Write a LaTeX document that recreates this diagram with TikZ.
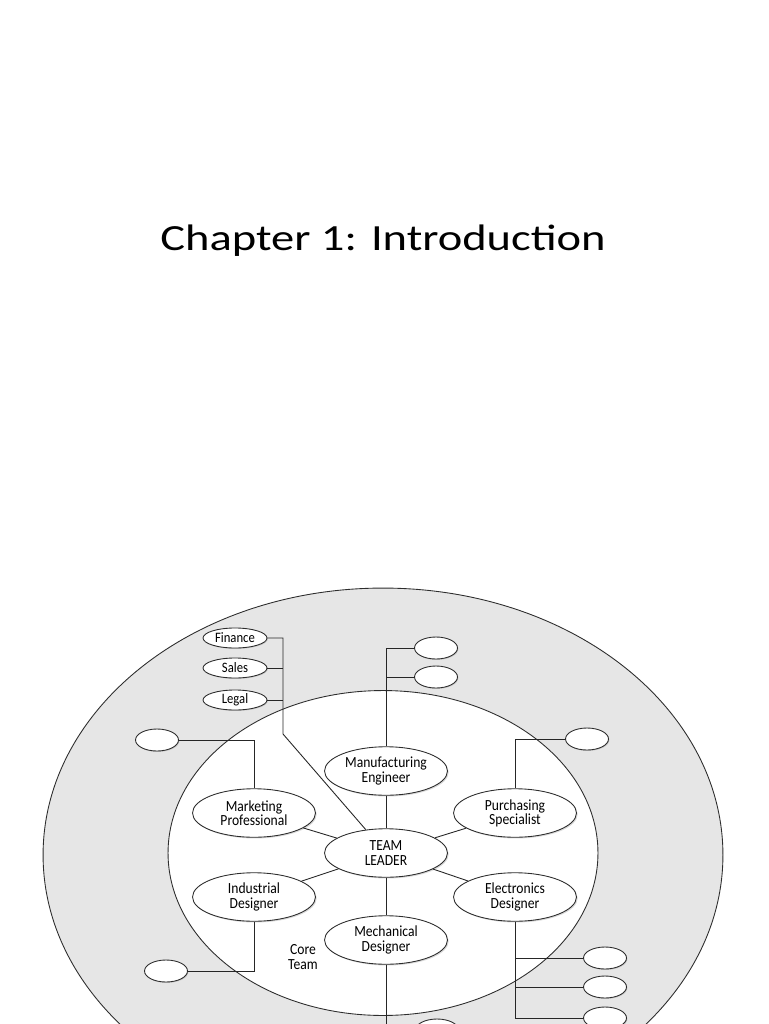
\documentclass[tikz,border=0pt]{standalone}
\usepackage{fontspec}
\setmainfont{Carlito}
\newfontfamily\titlefont[FakeStretch=1.26]{Carlito}
\newfontfamily\rolefont[FakeStretch=0.88]{Carlito}
\usepackage{tikz}
\usetikzlibrary{shapes.geometric, shadows, positioning}
\definecolor{RingGray}{RGB}{230,230,230}
\definecolor{EdgeGray}{RGB}{45,45,45}

\begin{document}
\begin{tikzpicture}[x=0.02cm, y=-0.02cm,
  role/.style={ellipse, draw=EdgeGray, fill=white, line width=0.5pt,
               minimum width=2.46cm, minimum height=0.97cm, inner sep=0pt,
               font=\rolefont\fontsize{8.8}{8.1}\selectfont, align=center,
               drop shadow={shadow xshift=0.7pt, shadow yshift=-0.7pt, opacity=.3}},
  dept/.style={ellipse, draw=EdgeGray, fill=white, line width=0.5pt,
               minimum width=1.28cm, minimum height=0.4cm, inner sep=0pt,
               font=\rolefont\fontsize{8.2}{8}\selectfont,
               drop shadow={shadow xshift=0.5pt, shadow yshift=-0.5pt, opacity=.3}},
  blank/.style={ellipse, draw=EdgeGray, fill=white, line width=0.5pt,
                minimum width=0.86cm, minimum height=0.44cm, inner sep=0pt,
                drop shadow={shadow xshift=0.5pt, shadow yshift=-0.5pt, opacity=.3}},
  link/.style={draw=black!85, line width=0.5pt},
]
\path[use as bounding box] (0,0) rectangle (768,1024);
\clip (0,0) rectangle (768,1024);

% title
\node[font=\titlefont\fontsize{21}{25}\selectfont, anchor=base] (title) at (383,250) {Chapter 1: Introduction};

% outer ring and core team area
\filldraw[fill=RingGray, draw=EdgeGray, line width=0.5pt] (383,855) ellipse [x radius=6.8cm, y radius=5.34cm];
\filldraw[fill=white, draw=EdgeGray, line width=0.5pt] (383,853) ellipse [x radius=4.3cm, y radius=3.25cm];

% core team
\node[role] (mfg) at (386,771) {Manufacturing\\Engineer};
\node[role] (lead) at (386,853) {TEAM\\LEADER};
\node[role] (mkt) at (254,813) {Marketing\\Professional};
\node[role] (pur) at (515,813) {Purchasing\\Specialist};
\node[role] (ind) at (254,897) {Industrial\\Designer};
\node[role] (ele) at (515,897) {Electronics\\Designer};
\node[role] (mech) at (386,940) {Mechanical\\Designer};
\node[font=\rolefont\fontsize{8.8}{8.1}\selectfont, align=center] (core) at (303,957) {Core\\Team};

% extended team
\node[dept] (fin) at (235,638) {Finance};
\node[dept] (sales) at (235,668) {Sales};
\node[dept] (legal) at (235,700) {Legal};
\node[blank] (topA) at (436,648) {};
\node[blank] (topB) at (436,677) {};
\node[blank] (mktX) at (157,740) {};
\node[blank] (purX) at (587,739) {};
\node[blank] (indX) at (166,971) {};
\node[blank] (eleA) at (605,958) {};
\node[blank] (eleB) at (605,987) {};
\node[blank] (eleC) at (605,1018) {};
\node[blank] (mechX) at (437,1030) {};

\coordinate (busTop) at (283,638);
\coordinate (busEnd) at (283,734);

\draw[link] (fin.east) -- (busTop) -- (busEnd) -- (lead);
\draw[link] (sales.east) -- (sales.east -| busTop);
\draw[link] (legal.east) -- (legal.east -| busTop);
\draw[link] (topA.west) -| (mfg.north);
\draw[link] (topB.west) -- (topB.west -| mfg.north);
\draw[link] (mfg) -- (lead);
\draw[link] (lead) -- (mech);
\draw[link] (mech.south) |- (mechX.west);
\draw[link] (lead) -- (mkt);
\draw[link] (lead) -- (pur);
\draw[link] (lead) -- (ind);
\draw[link] (lead) -- (ele);
\draw[link] (mktX.east) -| (mkt.north);
\draw[link] (purX.west) -| (pur.north);
\draw[link] (indX.east) -| (ind.south);
\draw[link] (ele.south) |- (eleC.west);
\draw[link] (eleA.west) -- (eleA.west -| ele.south);
\draw[link] (eleB.west) -- (eleB.west -| ele.south);
\end{tikzpicture}
\end{document}
